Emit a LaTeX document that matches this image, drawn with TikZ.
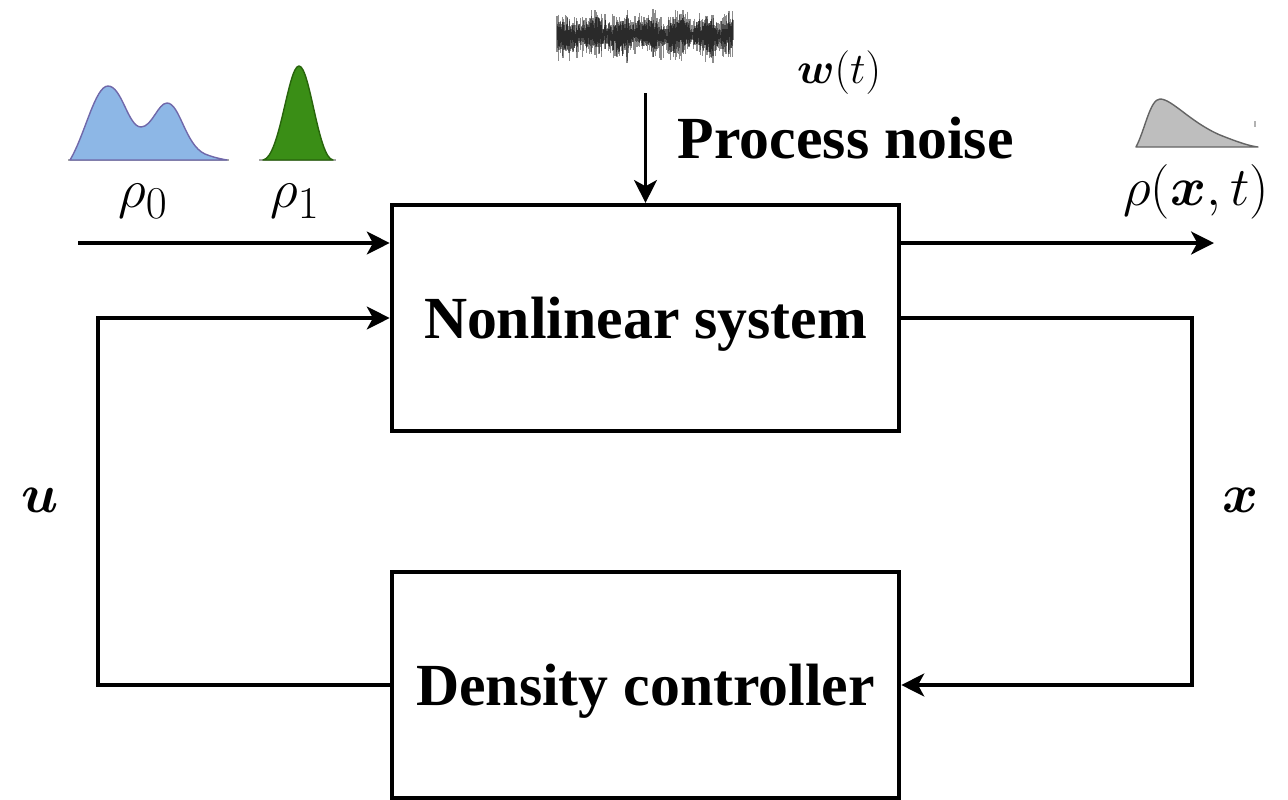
\documentclass[tikz,border=0pt]{standalone}
\usepackage{amsmath,bm}
\usepackage{fontspec}
\newfontfamily\blockfont{Liberation Serif}
\usetikzlibrary{arrows.meta}

\begin{document}
\begin{tikzpicture}[x=0.02cm,y=-0.02cm,
  >={Stealth[length=13pt,width=13pt,inset=3.5pt]},
  line width=2.2pt,
  block/.style={draw, line width=2.4pt, minimum width=10.15cm, minimum height=4.52cm, inner sep=0pt,
    text depth=0pt, font=\blockfont\bfseries\fontsize{34}{38}\selectfont},
  tag/.style={font=\blockfont\bfseries\fontsize{34}{38}\selectfont},
  lab/.style={inner sep=0pt, scale=1.25, font=\fontsize{24.88}{30}\selectfont},
  density/.style={line width=0.8pt, line join=round}]
  \useasboundingbox (0,0) rectangle (1288,799);

  % blocks
  \node[block] (sys) at (645.5,318) {Nonlinear system};
  \node[block] (ctrl) at (645.5,685) {Density controller};

  % noise signal
  \pgfmathsetseed{11}
  \foreach \i in {0,...,440} {
    \pgfmathsetmacro{\h}{5+18*rnd*rnd+5*rnd+3*sin(\i*5)}
    \pgfmathsetmacro{\c}{35+4*rand+2*sin(\i*3)}
    \draw[line width=0.6pt, black, opacity=0.45] (557+\i*0.4,\c-\h) -- (557+\i*0.4,\c+\h);
  }
  \coordinate (w) at (645.5,93);
  \draw[->, line width=1.9pt] (w) -- (sys.north);
  \node[inner sep=0pt, font=\fontsize{23}{28}\selectfont] (wt) at (839,73) {$\bm{w}(t)$};
  \node[tag, anchor=west, inner sep=0pt] (pn) at (676,138) {Process noise};

  % initial and target densities
  \draw[gray!70, line width=1pt] (68,160) -- (229,160);
  \draw[density, draw={rgb,255:red,112;green,104;blue,170}, fill={rgb,255:red,141;green,183;blue,230}]
    (70,160) .. controls (85,135) and (95,86) .. (108,86)
    .. controls (122,86) and (128,127) .. (141,127)
    .. controls (152,127) and (158,103) .. (167,103)
    .. controls (180,103) and (185,145) .. (205,154)
    .. controls (215,158) and (222,159) .. (227,160) -- cycle;
  \draw[gray!70, line width=1pt] (259,160) -- (336,160);
  \draw[density, draw={rgb,255:red,40;green,100;blue,12}, fill={rgb,255:red,58;green,142;blue,22}]
    (263,160) .. controls (280,158) and (288,66) .. (299,66)
    .. controls (310,66) and (318,158) .. (333,160) -- cycle;
  \node[lab] (r0) at (143,201) {$\rho_0$};
  \node[lab] (r1) at (295,201) {$\rho_1$};

  % output density
  \draw[density, draw={rgb,255:red,100;green,100;blue,100}, fill={rgb,255:red,190;green,190;blue,190}]
    (1136,147) .. controls (1145,130) and (1150,99) .. (1160,99)
    .. controls (1172,99) and (1190,122) .. (1220,135)
    .. controls (1240,143) and (1250,146) .. (1258,147) -- cycle;
  \draw[gray!60, line width=0.8pt] (1255,121) -- (1255,127);
  \node[lab] (rxt) at (1196,192) {$\rho(\bm{x},t)$};

  % signal paths
  \coordinate (in) at (78,243);
  \coordinate (out) at (1214,243);
  \draw[->] (in) -- (sys.west |- in);
  \draw[->] (sys.east |- out) -- (out);
  \coordinate (ul) at (98,500);
  \coordinate (xr) at (1192,500);
  \draw[->] (ctrl.west) -| (ul) |- (sys.west);
  \draw[->] (sys.east) -| (xr) |- (ctrl.east);
  \node[lab] (u) at (40,500) {$\bm{u}$};
  \node[lab] (x) at (1240,500) {$\bm{x}$};
\end{tikzpicture}
\end{document}
